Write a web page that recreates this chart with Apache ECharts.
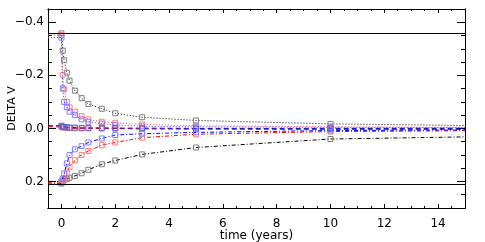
<!DOCTYPE html>
<html>
<head>
<meta charset="utf-8">
<script src="https://cdn.jsdelivr.net/npm/echarts@6/dist/echarts.min.js"></script>
<style>html,body{margin:0;padding:0;background:#fff;}#c{width:485px;height:242px;}</style>
</head>
<body>
<div id="c"></div>
<script>
// time points (years)
var times = [-0.5, 0, 0.05, 0.1, 0.2, 0.3, 0.5, 0.75, 1, 1.5, 2, 3, 5, 10, 15];
// series values (DELTA V)
var blackDotted  = [-0.358, -0.358, -0.293, -0.257, -0.21, -0.18, -0.142, -0.114, -0.092, -0.074, -0.057, -0.042, -0.030, -0.017, -0.011];
var blackDashDot = [0.200, 0.200, 0.198, 0.195, 0.190, 0.186, 0.179, 0.169, 0.156, 0.135, 0.121, 0.098, 0.072, 0.040, 0.032];
var redDotted    = [-0.352, -0.352, -0.202, -0.147, -0.100, -0.079, -0.063, -0.046, -0.034, -0.025, -0.021, -0.015, -0.010, -0.006, -0.004];
var redDashDot   = [0.205, 0.205, 0.200, 0.195, 0.170, 0.145, 0.120, 0.100, 0.085, 0.063, 0.053, 0.035, 0.022, 0.012, 0.009];
var blueDotted   = [-0.342, -0.342, -0.151, -0.100, -0.080, -0.063, -0.050, -0.034, -0.025, -0.018, -0.013, -0.008, -0.006, -0.004, -0.003];
var blueDashDot  = [0.210, 0.208, 0.190, 0.170, 0.132, 0.100, 0.079, 0.067, 0.053, 0.038, 0.025, 0.020, 0.015, 0.008, 0.006];
var redDashed    = [-0.006, -0.006, -0.004, -0.003, -0.002, -0.001, 0.000, 0.000, 0.000, 0.001, 0.001, 0.002, 0.003, 0.004, 0.004];
var blueDashed   = [-0.010, -0.010, -0.006, -0.005, -0.004, -0.003, -0.003, -0.002, -0.002, -0.002, -0.001, -0.001, 0.000, 0.000, 0.000];
// reference levels (solid lines)
var refLevels = [-0.357, 0.21];
// ticks
var yMajor = [-0.4, -0.2, 0.0, 0.2];
var yMinor = [-0.35, -0.3, -0.25, -0.15, -0.1, -0.05, 0.05, 0.1, 0.15, 0.25];
var xMajor = [0, 2, 4, 6, 8, 10, 12, 14];
var xMinor = [-0.5, 0.5, 1, 1.5, 2.5, 3, 3.5, 4.5, 5, 5.5, 6.5, 7, 7.5, 8.5, 9, 9.5, 10.5, 11, 11.5, 12.5, 13, 13.5, 14.5];

var FONT = 'DejaVu Sans';

function pts(vals) {
  return times.map(function (t, i) {
    var item = { value: [t, vals[i]] };
    if (t < 0 || t >= 15) item.symbol = 'none';
    return item;
  });
}
function mk(name, vals, lineColor, markColor, dash, z) {
  return {
    name: name, type: 'line', data: pts(vals), xAxisIndex: 0, yAxisIndex: 0,
    symbol: 'rect', symbolSize: 5, z: z, animation: false,
    lineStyle: { color: lineColor, width: 1, type: dash },
    itemStyle: { color: 'transparent', borderColor: markColor, borderWidth: 1 },
    emphasis: { disabled: true }
  };
}

var yBase = { type: 'value', min: -0.45, max: 0.3, inverse: true, splitLine: { show: false },
  axisLine: { show: true, onZero: false, lineStyle: { color: '#000', width: 1 } } };
var xBase = { type: 'value', min: -0.5, max: 15, splitLine: { show: false },
  axisLine: { show: true, onZero: false, lineStyle: { color: '#000', width: 1 } } };

function ax(base, extra) { var o = {}; for (var k in base) o[k] = base[k]; for (var k2 in extra) o[k2] = extra[k2]; return o; }

var yAxes = [
  ax(yBase, { position: 'left',
    axisTick: { inside: true, length: 8, customValues: yMajor, lineStyle: { color: '#000' } },
    axisLabel: { customValues: yMajor, color: '#000', fontFamily: FONT, fontSize: 12, margin: 4,
      formatter: function (v) { var s = Math.abs(v).toFixed(1); return v < -1e-9 ? '\u2212' + s : s; } },
    name: 'DELTA V', nameLocation: 'middle', nameGap: 30, nameRotate: 90, nameMoveOverlap: false,
    nameTextStyle: { color: '#000', fontFamily: FONT, fontSize: 11 } }),
  ax(yBase, { position: 'left', axisTick: { inside: true, length: 4, customValues: yMinor, lineStyle: { color: '#000' } }, axisLabel: { show: false } }),
  ax(yBase, { position: 'right', axisTick: { inside: true, length: 8, customValues: yMajor, lineStyle: { color: '#000' } }, axisLabel: { show: false } }),
  ax(yBase, { position: 'right', axisTick: { inside: true, length: 4, customValues: yMinor, lineStyle: { color: '#000' } }, axisLabel: { show: false } })
];
var xAxes = [
  ax(xBase, { position: 'bottom',
    axisTick: { inside: true, length: 4, customValues: xMajor, lineStyle: { color: '#000' } },
    axisLabel: { customValues: xMajor, color: '#000', fontFamily: FONT, fontSize: 12, margin: 10 },
    name: 'time (years)', nameLocation: 'middle', nameGap: 22, nameMoveOverlap: false,
    nameTextStyle: { color: '#000', fontFamily: FONT, fontSize: 12 } }),
  ax(xBase, { position: 'bottom', axisTick: { inside: true, length: 2, customValues: xMinor, lineStyle: { color: '#000' } }, axisLabel: { show: false } }),
  ax(xBase, { position: 'top', axisTick: { inside: true, length: 4, customValues: xMajor, lineStyle: { color: '#000' } }, axisLabel: { show: false } }),
  ax(xBase, { position: 'top', axisTick: { inside: true, length: 2, customValues: xMinor, lineStyle: { color: '#000' } }, axisLabel: { show: false } })
];

var series = [
  mk('black dotted', blackDotted, '#000', '#7f7f7f', [1, 2], 2),
  mk('black dashdot', blackDashDot, '#000', '#7f7f7f', [4, 2, 1, 2], 2),
  mk('red dotted', redDotted, '#ff4040', '#ff7f7f', [1, 2], 3),
  mk('red dashdot', redDashDot, '#ff0000', '#ff7f7f', [4, 2, 1, 2], 3),
  mk('red dashed', redDashed, '#ff0000', '#ff7f7f', [5, 3], 3),
  mk('blue dotted', blueDotted, '#4040ff', '#7f7fff', [1, 2], 4),
  mk('blue dashdot', blueDashDot, '#0000ff', '#7f7fff', [4, 2, 1, 2], 4),
  mk('blue dashed', blueDashed, '#0000c0', '#6060d0', [5, 3], 4)
];
series.push({
  type: 'line', data: [], xAxisIndex: 0, yAxisIndex: 0, silent: true,
  markLine: { silent: true, symbol: 'none', animation: false, label: { show: false },
    lineStyle: { color: '#000', width: 1, type: 'solid' },
    data: refLevels.map(function (v) { return { yAxis: v }; }) }
});

var chart = echarts.init(document.getElementById('c'), null, { renderer: 'canvas' });
chart.setOption({
  animation: false,
  backgroundColor: '#fff',
  grid: { left: 48, right: 20, top: 9, bottom: 34, show: false, containLabel: false, outerBoundsMode: 'none' },
  xAxis: xAxes,
  yAxis: yAxes,
  series: series
});
</script>
</body>
</html>
